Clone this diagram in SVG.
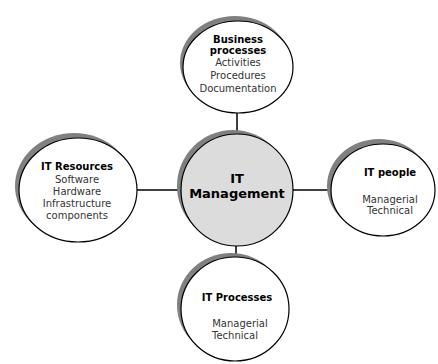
<svg xmlns="http://www.w3.org/2000/svg" width="438" height="364" viewBox="0 0 438 364">
<style>
.sh{fill:#808080;stroke:none}
.nd{fill:#fff;stroke:#000;stroke-width:1.2}
.ct{fill:#dcdcdc;stroke:#000;stroke-width:1.2}
text{font-family:"DejaVu Sans",Verdana,sans-serif;font-size:10px;text-anchor:middle;fill:#333}
.b{font-weight:bold;fill:#000}
.big{font-size:13px}
.cn{stroke:#000;stroke-width:1.5;fill:none}
</style>
<rect width="438" height="364" fill="#fff"/>
<g id="connectors">
<line class="cn" x1="237" y1="112" x2="237" y2="136"/>
<line class="cn" x1="236" y1="245" x2="236" y2="258"/>
<line class="cn" x1="136" y1="190" x2="182" y2="190"/>
<line class="cn" x1="292" y1="190" x2="331" y2="190"/>
</g>
<g id="business">
<ellipse class="sh" cx="235" cy="63" rx="55" ry="47"/>
<ellipse class="nd" cx="238" cy="67" rx="55" ry="46"/>
<text class="b" x="238" y="43">Business</text>
<text class="b" x="238" y="54">processes</text>
<text x="238" y="66">Activities</text>
<text x="238" y="79">Procedures</text>
<text x="238" y="92">Documentation</text>
</g>
<g id="resources">
<ellipse class="sh" cx="74" cy="186" rx="59" ry="53"/>
<ellipse class="nd" cx="78" cy="190" rx="59" ry="52"/>
<text class="b" x="77" y="170">IT Resources</text>
<text x="77" y="183">Software</text>
<text x="77" y="195">Hardware</text>
<text x="77" y="207">Infrastructure</text>
<text x="77" y="219">components</text>
</g>
<g id="management">
<circle class="sh" cx="233" cy="186" r="56"/>
<circle class="ct" cx="237" cy="190" r="56"/>
<text class="b big" x="237" y="183">IT</text>
<text class="b big" x="237" y="198">Management</text>
</g>
<g id="people">
<ellipse class="sh" cx="379" cy="186" rx="52" ry="47"/>
<ellipse class="nd" cx="383" cy="190" rx="52" ry="46"/>
<text class="b" x="390" y="176">IT people</text>
<text x="390" y="203">Managerial</text>
<text x="390" y="214">Technical</text>
</g>
<g id="processes">
<ellipse class="sh" cx="231" cy="305" rx="54" ry="52"/>
<ellipse class="nd" cx="235" cy="309" rx="54" ry="52"/>
<text class="b" x="237" y="301">IT Processes</text>
<text x="240" y="327">Managerial</text>
<text x="235" y="339">Technical</text>
</g>
</svg>
